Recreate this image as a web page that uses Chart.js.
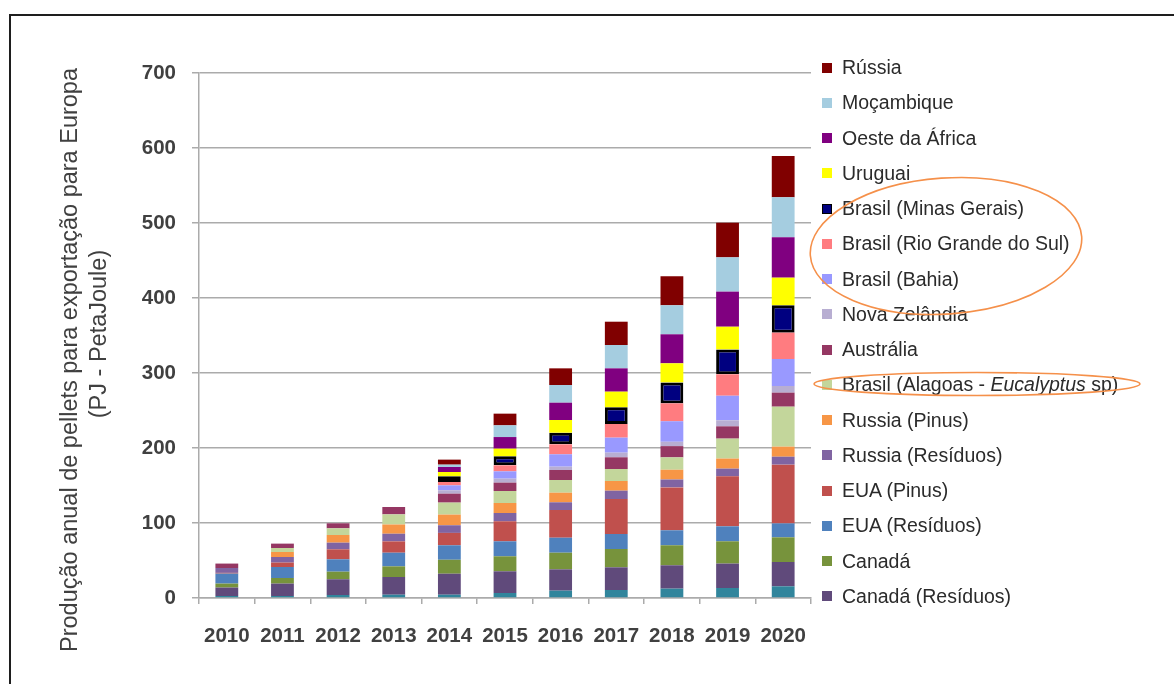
<!DOCTYPE html>
<html lang="pt">
<head>
<meta charset="utf-8">
<title>Produção anual de pellets para exportação para Europa</title>
<script src="https://cdn.jsdelivr.net/npm/chart.js@4.4.1/dist/chart.umd.min.js"></script>
<style>
  html, body { margin: 0; padding: 0; background: #fff; overflow: hidden; }
  #wrap { position: relative; width: 1174px; height: 684px; }
  #frame { position: absolute; left: 9px; top: 14px; right: -10px; bottom: -10px; border: 2px solid #1e1e1e; }
  #chart { position: absolute; left: 0; top: 0; }
  #legend { position: absolute; left: 822px; top: 50px; margin: 0; padding: 0; list-style: none;
            font: 19.5px 'Liberation Sans', Arial, sans-serif; color: #2b2b2b; }
  #legend li { height: 35.25px; display: flex; align-items: center; white-space: nowrap; }
  #legend .sw { width: 10px; height: 10px; margin-right: 10px; flex: none; box-sizing: border-box; }
  #marks { position: absolute; left: 0; top: 0; pointer-events: none; }
</style>
</head>
<body>
<div id="wrap">
  <div id="frame"></div>
  <canvas id="chart" width="1174" height="684"></canvas>
  <ul id="legend"></ul>
  <svg id="marks" width="1174" height="684">
    <ellipse cx="946" cy="246" rx="136" ry="68" transform="rotate(-4 946 246)" fill="none" stroke="#f5904a" stroke-width="1.6"/>
    <ellipse cx="977" cy="384" rx="163" ry="11.5" fill="none" stroke="#f5904a" stroke-width="1.6"/>
  </svg>
</div>
<script>
// anos do eixo x
const years = ['2010', '2011', '2012', '2013', '2014', '2015', '2016', '2017', '2018', '2019', '2020'];

// produção por origem (PJ), de baixo para cima na pilha
const outros           = [2.7, 2.7, 4, 4.4, 4.4, 6.7, 9.8, 10.7, 12.5, 13.3, 15.6];
const canadaResiduos   = [11.2, 16.5, 21, 23.6, 28, 28.9, 28.4, 30.2, 31.1, 32.6, 32.4];
const canada           = [5.3, 7.5, 10.1, 14.2, 18.6, 20, 22.2, 24.4, 26.7, 29.7, 32.9];
const euaResiduos      = [13.3, 14.6, 16.5, 18.2, 19.3, 20, 20, 20, 20, 20, 18.6];
const euaPinus         = [1, 5.9, 13.3, 15.1, 16.5, 26.7, 36.9, 46.7, 57.2, 66.7, 78.3];
const russiaResiduos   = [6.5, 7.5, 8.9, 10.2, 10.2, 11, 10.3, 11.1, 10.5, 10.2, 10.6];
const russiaPinus      = [0, 6.6, 10.2, 12.3, 14.2, 13.4, 12.8, 12.9, 13, 13.4, 13.4];
const brasilAlagoas    = [0, 5.4, 8.9, 13.5, 16, 16, 16.9, 16, 16.5, 26.6, 53.3];
const australia        = [5.9, 5.8, 6.7, 9.8, 11.9, 11.1, 13.4, 15.6, 15, 16.4, 18.7];
const novaZelandia     = [0, 0, 0, 0, 4.5, 5.3, 4.4, 6.2, 5.8, 8, 8.9];
const brasilBahia      = [0, 0, 0, 0, 6.6, 9.8, 16.5, 20, 27.4, 32.8, 36];
const brasilRGS        = [0, 0, 0, 0, 4.5, 8, 13.3, 18.2, 23.8, 28.6, 35.1];
const brasilMG         = [0, 0, 0, 0, 7.6, 12, 15.5, 22.2, 28, 33.2, 36.5];
const uruguai          = [0, 0, 0, 0, 5.7, 10.2, 16.9, 20.9, 25.4, 30.2, 36.8];
const oesteAfrica      = [0, 0, 0, 0, 6.7, 15.5, 23.1, 31.1, 38.7, 46.8, 53.9];
const mocambique       = [0, 0, 0, 0, 3.1, 15.6, 23.6, 31.1, 38.7, 45.7, 53.3];
const russia           = [0, 0, 0, 0, 6.7, 15.6, 22.2, 31.1, 38.7, 46.2, 55];

const yTicks = [0, 100, 200, 300, 400, 500, 600, 700];

// [rótulo, dados, cor, aparece na legenda]
const series = [
  ['Outros', outros, '#31859c', false],
  ['Canadá (Resíduos)', canadaResiduos, '#604a7b', true],
  ['Canadá', canada, '#77933c', true],
  ['EUA (Resíduos)', euaResiduos, '#4f81bd', true],
  ['EUA (Pinus)', euaPinus, '#c0504d', true],
  ['Russia (Resíduos)', russiaResiduos, '#8064a2', true],
  ['Russia (Pinus)', russiaPinus, '#f79646', true],
  ['Brasil (Alagoas - Eucalyptus sp)', brasilAlagoas, '#c3d69b', true],
  ['Austrália', australia, '#953763', true],
  ['Nova Zelândia', novaZelandia, '#b8aed2', true],
  ['Brasil (Bahia)', brasilBahia, '#9999ff', true],
  ['Brasil (Rio Grande do Sul)', brasilRGS, '#ff7c80', true],
  ['Brasil (Minas Gerais)', brasilMG, '#000080', true],
  ['Uruguai', uruguai, '#ffff00', true],
  ['Oeste da África', oesteAfrica, '#800080', true],
  ['Moçambique', mocambique, '#a5cde0', true],
  ['Rússia', russia, '#800000', true]
];

const FONT = "'Liberation Sans', Arial, sans-serif";
const INK = '#404040';
const GRID = '#ababab';
const OUTLINED = 'Brasil (Minas Gerais)';

Chart.defaults.font.family = FONT;
Chart.defaults.color = INK;

// título do eixo y em duas linhas, desenhado à mão para controlar a posição
const yTitle = {
  id: 'yTitle',
  afterDraw(chart) {
    const ctx = chart.ctx;
    ctx.save();
    ctx.fillStyle = INK;
    ctx.font = '23.5px ' + FONT;
    ctx.textAlign = 'center';
    ctx.textBaseline = 'middle';
    [['Produção anual de pellets para exportação para Europa', 71, 360],
     ['(PJ - PetaJoule)', 100, 334]].forEach(([txt, x, y]) => {
      ctx.save();
      ctx.translate(x, y);
      ctx.rotate(-Math.PI / 2);
      ctx.fillText(txt, 0, 0);
      ctx.restore();
    });
    ctx.restore();
  }
};

const chart = new Chart(document.getElementById('chart'), {
  type: 'bar',
  data: {
    labels: years,
    datasets: series.map(([label, data, color]) => ({
      label, data,
      backgroundColor: color,
      borderColor: label === OUTLINED ? '#000' : color,
      borderWidth: label === OUTLINED ? 3 : 0,
      borderSkipped: false,
      barPercentage: 0.41,
      categoryPercentage: 1
    }))
  },
  options: {
    responsive: false,
    animation: false,
    layout: { padding: { top: 73, right: 363, bottom: 0, left: 0 } },
    plugins: { legend: { display: false }, tooltip: { enabled: false } },
    scales: {
      x: {
        stacked: true,
        afterFit: (s) => { s.height = 86; },
        border: { color: GRID, width: 1.5 },
        grid: { drawOnChartArea: false, drawTicks: true, tickLength: 6, color: GRID, lineWidth: 1.5 },
        ticks: { padding: 20, font: { size: 20.5, weight: 'bold' }, color: INK }
      },
      y: {
        stacked: true,
        min: 0, max: 700,
        afterFit: (s) => { s.width = 199; },
        afterBuildTicks: (s) => { s.ticks = yTicks.map((v) => ({ value: v })); },
        border: { color: GRID, width: 1.5 },
        grid: { color: GRID, lineWidth: 1.5, tickLength: 7 },
        ticks: { padding: 16, font: { size: 20.5, weight: 'bold' }, color: INK }
      }
    }
  },
  plugins: [yTitle]
});

// legenda em HTML: ordem invertida (topo da pilha primeiro), itálico no nome da espécie
const legend = document.getElementById('legend');
chart.data.datasets.slice().reverse().forEach((ds) => {
  const entry = series.find((s) => s[0] === ds.label);
  if (!entry[3]) return;
  const li = document.createElement('li');
  const sw = document.createElement('span');
  sw.className = 'sw';
  sw.style.background = ds.backgroundColor;
  if (ds.borderWidth) sw.style.border = '1.5px solid #000';
  const tx = document.createElement('span');
  tx.innerHTML = ds.label.replace('Eucalyptus', '<i>Eucalyptus</i>');
  li.append(sw, tx);
  legend.appendChild(li);
});
</script>
</body>
</html>
